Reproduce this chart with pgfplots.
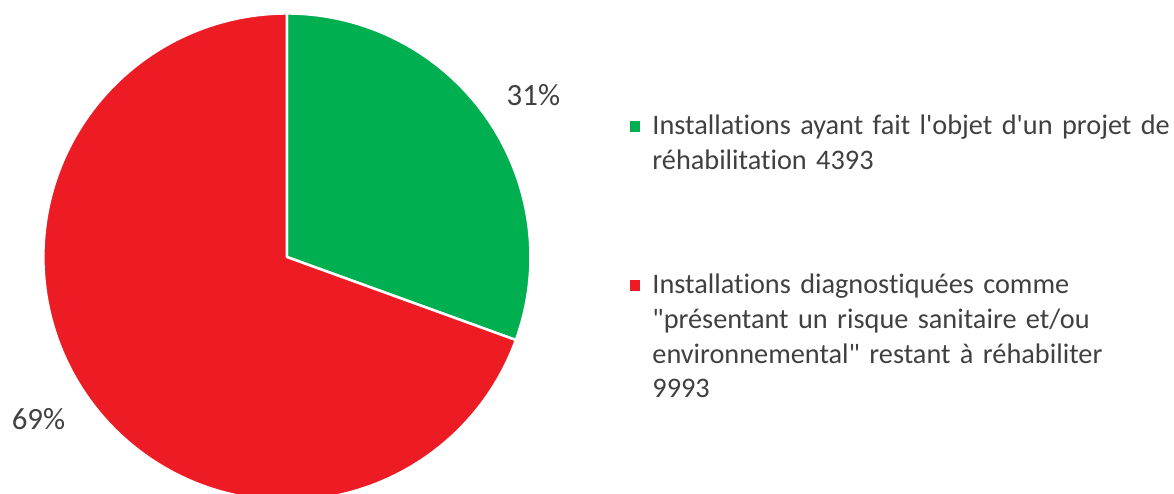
\documentclass[border=0pt]{standalone}
\usepackage{fontspec}
\setmainfont{Carlito}[Ligatures={CommonOff,TeXOff}]
\usepackage{pgfplots}
\usepackage{pgfplotstable}
\pgfplotsset{compat=1.18}
\definecolor{pgreen}{RGB}{0,176,80}
\definecolor{pred}{RGB}{237,28,36}
\definecolor{txt}{RGB}{64,64,64}
\pgfplotstableread{
value
4393
9993
}\pietable
\begin{document}
\pgfplotstablegetelem{0}{value}\of\pietable \let\va\pgfplotsretval
\pgfplotstablegetelem{1}{value}\of\pietable \let\vb\pgfplotsretval
\pgfmathsetmacro\ang{90-360*(\va/(\va+\vb))}
\begin{tikzpicture}[font=\fontsize{14.2}{17.5}\selectfont]
\useasboundingbox (0,0) rectangle (587pt,247.5pt);
\begin{axis}[at={(19.5pt,-3.75pt)}, anchor=south west, scale only axis,
  width=244.5pt, height=244.5pt, xmin=-1, xmax=1, ymin=-1, ymax=1,
  hide axis, clip=false,
  legend image code/.code={\fill[#1,draw=none] (0pt,1.3pt) rectangle (5.2pt,6.5pt);},
  legend style={at={(axis description cs:1.2045,0.8005)}, anchor=north west,
    draw=none, fill=none, inner sep=0pt, outer sep=0pt, row sep=64.5pt, column sep=4pt,
    cells={anchor=base west, align=left, text width=290pt, inner sep=0pt, text=txt}}]
\addplot[fill=pgreen, draw=white, line width=1.25pt, line join=round,
  domain=\ang:90, samples=200] ({cos(x)},{sin(x)}) -- (axis cs:0,0) -- cycle;
\addlegendentry{Installations ayant fait l'objet d'un projet de\\réhabilitation 4393}
\addplot[fill=pred, draw=white, line width=1.25pt, line join=round,
  domain=-270:\ang, samples=400] ({cos(x)},{sin(x)}) -- (axis cs:0,0) -- cycle;
\addlegendentry{Installations diagnostiquées comme\\"présentant un risque sanitaire et/ou\\environnemental" restant à réhabiliter\\9993}
\node[text=txt, font=\fontsize{15.5}{18}\selectfont] at (axis cs:1.012,0.663) {31\%};
\node[text=txt, font=\fontsize{15.5}{18}\selectfont] at (axis cs:-1.020,-0.667) {69\%};
\end{axis}
\end{tikzpicture}
\end{document}
